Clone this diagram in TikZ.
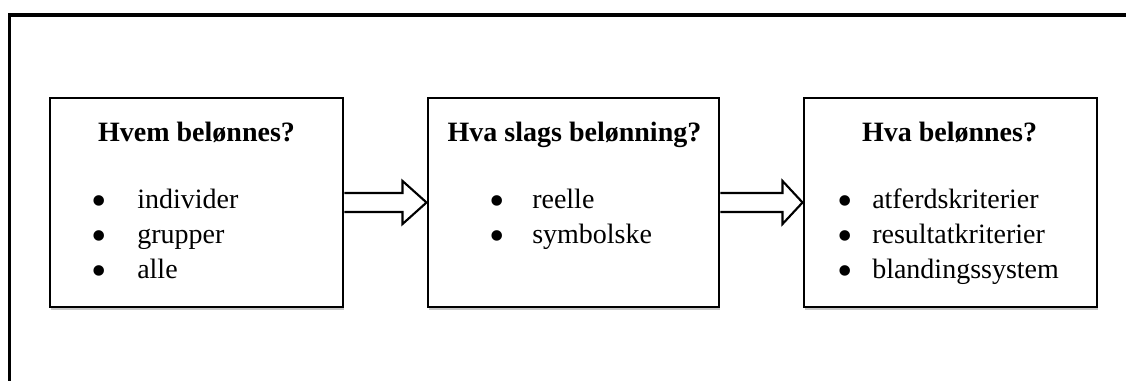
\documentclass[tikz,border=0pt]{standalone}
\usepackage{fontspec}
\setmainfont{Liberation Serif}
\usetikzlibrary{calc,shadows}
\begin{document}
\begin{tikzpicture}[x=0.75pt,y=-0.75pt,
  frame/.style={line width=2.3pt},
  box/.style={draw, line width=2.2pt, fill=white, minimum width=#1, minimum height=156.75pt, inner sep=0pt,
    drop shadow={shadow xshift=0.75pt, shadow yshift=-2.6pt, fill=black!22, opacity=1}},
  title/.style={font=\fontsize{21}{25}\selectfont\bfseries, anchor=base, inner sep=0pt},
  item/.style={font=\fontsize{21}{25}\selectfont, anchor=base west, inner sep=0pt},
  bul/.style={font=\fontsize{33}{33}\selectfont, anchor=base, inner sep=0pt, text height=0.45em, text depth=0pt},
  blockarrow/.style={draw, fill=white, line width=1.6pt, line join=miter}]
\useasboundingbox (0,0) rectangle (1126,381);
\clip (0,0) rectangle (1126,381);
\draw[frame] (9.5,400) -- (9.5,15) -- (1140,15);

\node[box=219.75pt] (b1) at (196.5,202.5) {};
\node[box=218.25pt] (b2) at (573.5,202.5) {};
\node[box=219.75pt] (b3) at (950.5,202.5) {};

\draw[blockarrow] ($(b1.east)+(0,-9.5)$) -- ($(b2.west)+(-24,-9.5)$) -- ($(b2.west)+(-24,-21.5)$) -- (b2.west)
  -- ($(b2.west)+(-24,21.5)$) -- ($(b2.west)+(-24,9.5)$) -- ($(b1.east)+(0,9.5)$);
\draw[blockarrow] ($(b2.east)+(0,-9.5)$) -- ($(b3.west)+(-20,-9.5)$) -- ($(b3.west)+(-20,-21.5)$) -- (b3.west)
  -- ($(b3.west)+(-20,21.5)$) -- ($(b3.west)+(-20,9.5)$) -- ($(b2.east)+(0,9.5)$);

\node[title] (t1) at (196.5,142) {Hvem belønnes?};
\node[bul] (p11) at (99,215) {•};
\node[bul] (p12) at (99,250) {•};
\node[bul] (p13) at (99,285) {•};
\node[item] (i11) at (137,208) {individer};
\node[item] (i12) at (137,243) {grupper};
\node[item] (i13) at (137,278) {alle};

\node[title] (t2) at (574.5,142) {Hva slags belønning?};
\node[bul] (p21) at (497,215) {•};
\node[bul] (p22) at (497,250) {•};
\node[item] (i21) at (532,208) {reelle};
\node[item] (i22) at (532,243) {symbolske};

\node[title] (t3) at (949.5,142) {Hva belønnes?};
\node[bul] (p31) at (845,215) {•};
\node[bul] (p32) at (845,250) {•};
\node[bul] (p33) at (845,285) {•};
\node[item] (i31) at (872,208) {atferdskriterier};
\node[item] (i32) at (872,243) {resultatkriterier};
\node[item] (i33) at (872,278) {blandingssystem};
\end{tikzpicture}
\end{document}
